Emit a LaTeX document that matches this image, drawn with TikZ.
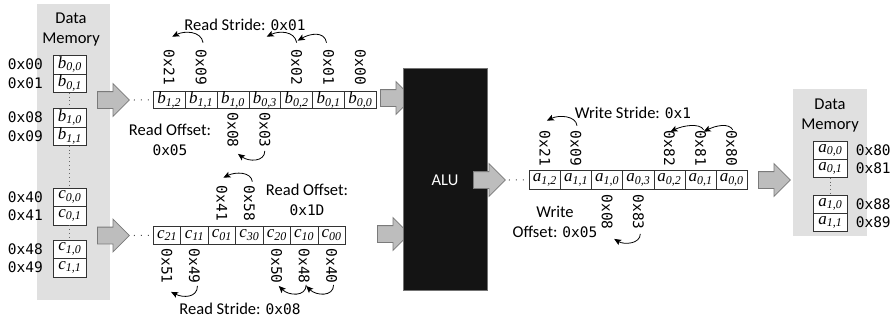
\documentclass[tikz,border=0pt]{standalone}
\usepackage{fontspec}
\setmainfont{Liberation Serif}
\newfontfamily\lblfont{Carlito}
\newfontfamily\hexfont{DejaVu Sans Mono}
\usetikzlibrary{arrows.meta,shapes.arrows}
% italic element name with italic subscript
\newcommand\ix[2]{\textit{#1}\textsubscript{\textit{#2}}}
% hexadecimal address inside sans text
\newcommand\hx[1]{{\hexfont\fontsize{14.5}{17}\selectfont #1}}

\begin{document}
\begin{tikzpicture}[x=1pt,y=-1pt,
  memback/.style={fill=black!12, draw=none, inner sep=0pt, anchor=north west},
  cellbox/.style={draw=black!80, fill=white, line width=0.6pt, inner sep=0pt,
    anchor=north west, font=\fontsize{17}{19}\selectfont},
  addr/.style={font=\hexfont\fontsize{14.5}{17}\selectfont, inner sep=0pt},
  hexv/.style={addr, rotate=-90},
  lbl/.style={font=\lblfont\fontsize{16.5}{20}\selectfont, inner sep=0pt, align=center},
  arc/.style={line width=0.8pt, -{Stealth[length=7pt,width=6pt,inset=1.5pt]}},
  bigarrow/.style={single arrow, draw=black!52, fill=black!26, line width=0.8pt,
    minimum height=32pt, minimum width=0pt, inner xsep=0pt, inner ysep=8pt,
    single arrow head extend=8pt, anchor=tail},
  vdots/.style={line width=0.9pt, draw=black!60, dash pattern=on 0.9pt off 3pt},
  rowdots/.style={line width=1pt, draw=black!70, dash pattern=on 1pt off 6pt}
]
\path[use as bounding box] (0,0) rectangle (895,322);

% ---------------- source data memory ----------------
\node[memback, minimum width=73pt, minimum height=296pt] (memL) at (37,4) {};
\node[lbl] (memLtitle) at (71,30) {Data\\Memory};
\foreach \n/\y/\t in {b00/55/{\ix{b}{0,0}}, b01/73.5/{\ix{b}{0,1}},
                      b10/108/{\ix{b}{1,0}}, b11/126.5/{\ix{b}{1,1}},
                      c00/187.5/{\ix{c}{0,0}}, c01/206/{\ix{c}{0,1}},
                      c10/239.5/{\ix{c}{1,0}}, c11/258/{\ix{c}{1,1}}}
  \node[cellbox, minimum width=33pt, minimum height=18.5pt] (m\n) at (53,\y) {\t};
\foreach \n/\a in {b00/0x00, b01/0x01, b10/0x08, b11/0x09,
                   c00/0x40, c01/0x41, c10/0x48, c11/0x49}
  \node[addr, anchor=east] (ad\n) at ([xshift=-10pt]m\n.west) {\a};
\draw[vdots] (mb01.south) -- (mb10.north);
\draw[vdots] (mb11.south) -- (mc00.north);
\draw[vdots] (mc01.south) -- (mc10.north);

% ---------------- block arrows into the read buffers ----------------
\node[bigarrow] (inB) at (97,100) {};
\node[bigarrow] (inC) at (97,235.5) {};

% ---------------- read buffer b ----------------
\foreach \s [count=\i from 0] in {{1,2},{1,1},{1,0},{0,3},{0,2},{0,1},{0,0}}
  \node[cellbox, minimum width=31.86pt, minimum height=17pt] (b\i) at (153+31.86*\i,91) {\ix{b}{\s}};
\draw[rowdots] ([xshift=4pt]inB.tip) -- (b0.west);

\foreach \c/\a in {0/21, 1/09, 4/02, 5/01, 6/00}
  \node[hexv, anchor=east] (tb\a) at ([yshift=6pt]b\c.north) {0x\a};
\foreach \c/\a in {2/08, 3/03}
  \node[hexv, anchor=west] (tb\a) at ([yshift=-4pt]b\c.south) {0x\a};

\draw[arc] ([shift={(2pt,7pt)}]tb09.west) .. controls +(-2,-12) and +(12,-6) .. ([shift={(3pt,13pt)}]tb21.west);
\draw[arc] ([shift={(-2pt,7pt)}]tb01.west) .. controls +(-2,-12) and +(12,-7) .. ([shift={(1pt,9pt)}]tb02.west);
\draw[arc] ([shift={(0pt,7pt)}]tb02.west) .. controls +(-2,-12) and +(12,-6) .. ([shift={(-30pt,13pt)}]tb02.west);
\draw[arc] ([shift={(0pt,-3pt)}]tb03.east) .. controls +(0,11) and +(11,8) .. ([shift={(5pt,-6pt)}]tb08.east);

\node[lbl] (strideB) at (245,25) {Read Stride: \hx{0x01}};
\node[lbl] (offsetB) at (170,140) {Read Offset:\\\hx{0x05}};

% ---------------- read buffer c ----------------
\foreach \s [count=\i from 0] in {21,11,01,30,20,10,00}
  \node[cellbox, minimum width=27.43pt, minimum height=18pt] (c\i) at (153+27.43*\i,226) {\ix{c}{\s}};
\draw[rowdots] ([xshift=4pt]inC.tip) -- (c0.west);

\foreach \c/\a in {2/41, 3/58}
  \node[hexv, anchor=east] (tc\a) at ([yshift=5pt]c\c.north) {0x\a};
\foreach \c/\a in {0/51, 1/49, 4/50, 5/48, 6/40}
  \node[hexv, anchor=west] (tc\a) at ([yshift=-4pt]c\c.south) {0x\a};

\draw[arc] ([shift={(3pt,4pt)}]tc58.west) .. controls +(-1,-10) and +(12,-6) .. ([shift={(1.5pt,8pt)}]tc41.west);
\draw[arc] ([shift={(3pt,-2pt)}]tc49.east) .. controls +(0,12) and +(12,6) .. ([shift={(4pt,-8pt)}]tc51.east);
\draw[arc] ([shift={(2pt,-1pt)}]tc48.east) .. controls +(0,12) and +(10,10) .. ([shift={(2pt,-2pt)}]tc50.east);
\draw[arc] ([shift={(2pt,-1pt)}]tc40.east) .. controls +(0,12) and +(10,10) .. ([shift={(2pt,-2pt)}]tc48.east);

\node[lbl] (offsetC) at (307,200) {Read Offset:\\\hx{0x1D}};
\node[lbl] (strideC) at (240,309) {Read Stride: \hx{0x08}};

% ---------------- ALU ----------------
\node[bigarrow] (toAluB) at (380,98) {};
\node[bigarrow] (toAluC) at (377,234) {};
\node[fill=black!92, draw=black!55, line width=0.6pt, minimum width=84pt, minimum height=222pt,
      anchor=north west, inner sep=0pt] (alu) at (403,68) {};
\node[text=white, font=\lblfont\fontsize{16.5}{20}\selectfont, inner sep=0pt] (alulabel) at (445,180) {ALU};
\node[bigarrow] (fromAlu) at (473,180) {};

% ---------------- write buffer a ----------------
\foreach \s [count=\i from 0] in {{1,2},{1,1},{1,0},{0,3},{0,2},{0,1},{0,0}}
  \node[cellbox, minimum width=31.14pt, minimum height=19pt] (a\i) at (529+31.14*\i,170) {\ix{a}{\s}};
\draw[rowdots] ([xshift=3pt]fromAlu.tip) -- (a0.west);

\foreach \c/\a in {0/21, 1/09, 4/82, 5/81, 6/80}
  \node[hexv, anchor=east] (ta\a) at ([yshift=4pt]a\c.north) {0x\a};
\foreach \c/\a in {2/08, 3/83}
  \node[hexv, anchor=west] (ta\a) at ([yshift=-5pt]a\c.south) {0x\a};

\draw[arc] ([shift={(1pt,5pt)}]ta09.west) .. controls +(-1,-10) and +(12,-6) .. ([shift={(2pt,10pt)}]ta21.west);
\draw[arc] ([shift={(3pt,1pt)}]ta81.west) .. controls +(-4,-7) and +(12,-6) .. ([shift={(1pt,-1pt)}]ta82.west);
\draw[arc] ([shift={(1pt,1pt)}]ta80.west) .. controls +(-4,-7) and +(12,-6) .. ([shift={(3pt,-1pt)}]ta81.west);
\draw[arc] ([shift={(2pt,-4pt)}]ta83.east) .. controls +(0,10) and +(10,6) .. ([shift={(7pt,-9pt)}]ta08.east);

\node[lbl] (strideA) at (633,113) {Write Stride: \hx{0x1}};
\node[lbl] (offsetA) at (555,222) {Write\\Offset: \hx{0x05}};

% ---------------- destination data memory ----------------
\node[bigarrow] (toMem) at (758,180) {};
\node[memback, minimum width=74pt, minimum height=147pt] (memR) at (793,89) {};
\node[lbl] (memRtitle) at (830,116) {Data\\Memory};
\foreach \n/\y/\t in {a00/141/{\ix{a}{0,0}}, a01/159/{\ix{a}{0,1}},
                      a10/195/{\ix{a}{1,0}}, a11/213/{\ix{a}{1,1}}}
  \node[cellbox, minimum width=34pt, minimum height=18pt] (m\n) at (813,\y) {\t};
\foreach \n/\a in {a00/0x80, a01/0x81, a10/0x88, a11/0x89}
  \node[addr, anchor=west] (ad\n) at ([xshift=8pt]m\n.east) {\a};
\draw[vdots] (ma01.south) -- (ma10.north);
\end{tikzpicture}
\end{document}
